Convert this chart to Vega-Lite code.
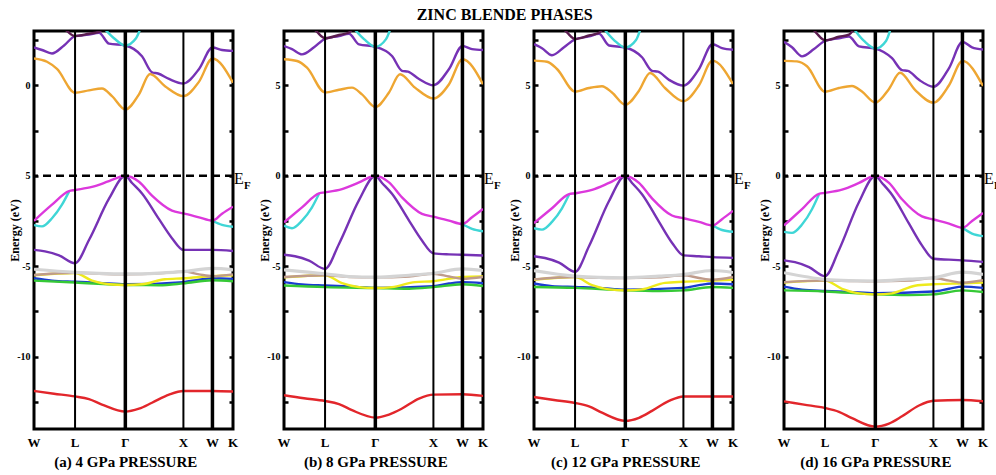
{
  "$schema": "https://vega.github.io/schema/vega-lite/v6.json",
  "background": "white",
  "padding": {"left": 7, "top": 6, "right": 0, "bottom": 0},
  "title": {"text": "ZINC BLENDE PHASES", "font": "Liberation Serif, Times New Roman, DejaVu Serif, serif", "fontSize": 16, "fontWeight": "bold", "color": "black", "anchor": "middle", "offset": 5},
  "config": {
    "view": {"stroke": "black", "strokeWidth": 3},
    "font": "Liberation Serif, Times New Roman, DejaVu Serif, serif",
    "axis": {"grid": false, "domain": false, "labelColor": "black", "titleColor": "black", "labelFont": "Liberation Serif, Times New Roman, DejaVu Serif, serif", "titleFont": "Liberation Serif, Times New Roman, DejaVu Serif, serif", "labelFontWeight": "bold", "titleFontWeight": "bold"},
    "axisLeft": {"tickSize": -4, "tickWidth": 2.5, "tickColor": "black", "labelFontSize": 10, "labelPadding": 8, "titleFontSize": 12, "titlePadding": -5},
    "axisRight": {"tickSize": -4, "tickWidth": 2.5, "tickColor": "black", "labels": false, "title": null},
    "axisBottom": {"ticks": false, "labels": false, "titleFontSize": 15, "titlePadding": 25},
    "text": {"font": "Liberation Serif, Times New Roman, DejaVu Serif, serif", "color": "black"}
  },
  "datasets": {
    "kpath": [
      {"point": "W", "k": 0},
      {"point": "L", "k": 0.707},
      {"point": "Γ", "k": 1.573},
      {"point": "X", "k": 2.573},
      {"point": "W", "k": 3.073},
      {"point": "K", "k": 3.427}
    ],
    "bands_4GPa": [
      {"band": "red", "k": 0, "E": -11.9}, {"band": "red", "k": 0.344, "E": -12.05}, {"band": "red", "k": 0.707, "E": -12.2}, {"band": "red", "k": 0.947, "E": -12.35}, {"band": "red", "k": 1.171, "E": -12.65}, {"band": "red", "k": 1.573, "E": -13.04}, {"band": "red", "k": 1.808, "E": -12.88}, {"band": "red", "k": 2.032, "E": -12.55}, {"band": "red", "k": 2.325, "E": -12.1}, {"band": "red", "k": 2.573, "E": -11.9}, {"band": "red", "k": 3.073, "E": -11.9}, {"band": "red", "k": 3.427, "E": -11.93},
      {"band": "blue", "k": 0, "E": -5.67}, {"band": "blue", "k": 0.31, "E": -5.8}, {"band": "blue", "k": 0.707, "E": -5.86}, {"band": "blue", "k": 1.119, "E": -5.92}, {"band": "blue", "k": 1.573, "E": -6.0}, {"band": "blue", "k": 2.573, "E": -5.88}, {"band": "blue", "k": 2.842, "E": -5.75}, {"band": "blue", "k": 3.073, "E": -5.67}, {"band": "blue", "k": 3.427, "E": -5.7},
      {"band": "green", "k": 0, "E": -5.8}, {"band": "green", "k": 0.707, "E": -5.9}, {"band": "green", "k": 1.573, "E": -6.04}, {"band": "green", "k": 2.153, "E": -6.05}, {"band": "green", "k": 2.573, "E": -5.95}, {"band": "green", "k": 3.073, "E": -5.78}, {"band": "green", "k": 3.427, "E": -5.83},
      {"band": "yellow", "k": 0, "E": -5.5}, {"band": "yellow", "k": 0.707, "E": -5.38}, {"band": "yellow", "k": 0.999, "E": -5.8}, {"band": "yellow", "k": 1.292, "E": -6.0}, {"band": "yellow", "k": 1.573, "E": -6.04}, {"band": "yellow", "k": 1.86, "E": -6.0}, {"band": "yellow", "k": 2.256, "E": -5.72}, {"band": "yellow", "k": 2.573, "E": -5.67}, {"band": "yellow", "k": 3.073, "E": -5.55}, {"band": "yellow", "k": 3.427, "E": -5.5},
      {"band": "brown", "k": 0, "E": -5.49}, {"band": "brown", "k": 0.707, "E": -5.36}, {"band": "brown", "k": 1.119, "E": -5.42}, {"band": "brown", "k": 1.573, "E": -5.45}, {"band": "brown", "k": 2.153, "E": -5.4}, {"band": "brown", "k": 2.573, "E": -5.3}, {"band": "brown", "k": 2.842, "E": -5.45}, {"band": "brown", "k": 3.073, "E": -5.55}, {"band": "brown", "k": 3.427, "E": -5.45},
      {"band": "gray", "k": 0, "E": -5.17}, {"band": "gray", "k": 0.707, "E": -5.34}, {"band": "gray", "k": 1.119, "E": -5.4}, {"band": "gray", "k": 1.573, "E": -5.43}, {"band": "gray", "k": 2.153, "E": -5.38}, {"band": "gray", "k": 2.573, "E": -5.3}, {"band": "gray", "k": 3.073, "E": -5.12}, {"band": "gray", "k": 3.427, "E": -5.2},
      {"band": "violet_v", "k": 0, "E": -4.1}, {"band": "violet_v", "k": 0.189, "E": -4.18}, {"band": "violet_v", "k": 0.431, "E": -4.4}, {"band": "violet_v", "k": 0.707, "E": -4.84}, {"band": "violet_v", "k": 0.947, "E": -3.55}, {"band": "violet_v", "k": 1.292, "E": -1.27}, {"band": "violet_v", "k": 1.573, "E": 0}, {"band": "violet_v", "k": 1.688, "E": -0.4}, {"band": "violet_v", "k": 1.86, "E": -0.98}, {"band": "violet_v", "k": 2.153, "E": -2.4}, {"band": "violet_v", "k": 2.376, "E": -3.45}, {"band": "violet_v", "k": 2.573, "E": -4.1}, {"band": "violet_v", "k": 2.842, "E": -4.1}, {"band": "violet_v", "k": 3.073, "E": -4.1}, {"band": "violet_v", "k": 3.427, "E": -4.16},
      {"band": "cyan_v1", "k": 0, "E": -2.73}, {"band": "cyan_v1", "k": 0.138, "E": -2.8}, {"band": "cyan_v1", "k": 0.31, "E": -2.35}, {"band": "cyan_v1", "k": 0.482, "E": -1.6}, {"band": "cyan_v1", "k": 0.603, "E": -0.88},
      {"band": "cyan_v2", "k": 3.073, "E": -2.49}, {"band": "cyan_v2", "k": 3.238, "E": -2.72}, {"band": "cyan_v2", "k": 3.427, "E": -2.82},
      {"band": "magenta", "k": 0, "E": -2.49}, {"band": "magenta", "k": 0.31, "E": -1.6}, {"band": "magenta", "k": 0.603, "E": -0.85}, {"band": "magenta", "k": 0.707, "E": -0.79}, {"band": "magenta", "k": 0.999, "E": -0.62}, {"band": "magenta", "k": 1.292, "E": -0.3}, {"band": "magenta", "k": 1.573, "E": 0}, {"band": "magenta", "k": 1.808, "E": -0.33}, {"band": "magenta", "k": 2.032, "E": -1.1}, {"band": "magenta", "k": 2.376, "E": -1.93}, {"band": "magenta", "k": 2.573, "E": -2.08}, {"band": "magenta", "k": 2.842, "E": -2.3}, {"band": "magenta", "k": 3.073, "E": -2.49}, {"band": "magenta", "k": 3.238, "E": -2.1}, {"band": "magenta", "k": 3.427, "E": -1.71},
      {"band": "orange", "k": 0, "E": 6.48}, {"band": "orange", "k": 0.224, "E": 6.3}, {"band": "orange", "k": 0.396, "E": 5.9}, {"band": "orange", "k": 0.707, "E": 4.59}, {"band": "orange", "k": 0.947, "E": 4.72}, {"band": "orange", "k": 1.171, "E": 4.82}, {"band": "orange", "k": 1.343, "E": 4.4}, {"band": "orange", "k": 1.573, "E": 3.66}, {"band": "orange", "k": 1.808, "E": 4.5}, {"band": "orange", "k": 1.998, "E": 5.62}, {"band": "orange", "k": 2.256, "E": 4.95}, {"band": "orange", "k": 2.573, "E": 4.4}, {"band": "orange", "k": 2.842, "E": 5.2}, {"band": "orange", "k": 3.073, "E": 6.48}, {"band": "orange", "k": 3.427, "E": 5.14},
      {"band": "violet_c", "k": 0, "E": 7.09}, {"band": "violet_c", "k": 0.138, "E": 6.95}, {"band": "violet_c", "k": 0.31, "E": 6.76}, {"band": "violet_c", "k": 0.517, "E": 7.2}, {"band": "violet_c", "k": 0.707, "E": 7.72}, {"band": "violet_c", "k": 0.947, "E": 7.8}, {"band": "violet_c", "k": 1.119, "E": 7.9}, {"band": "violet_c", "k": 1.292, "E": 7.3}, {"band": "violet_c", "k": 1.573, "E": 7.2}, {"band": "violet_c", "k": 1.86, "E": 6.6}, {"band": "violet_c", "k": 2.032, "E": 5.72}, {"band": "violet_c", "k": 2.135, "E": 5.65}, {"band": "violet_c", "k": 2.325, "E": 5.35}, {"band": "violet_c", "k": 2.573, "E": 5.1}, {"band": "violet_c", "k": 2.842, "E": 5.9}, {"band": "violet_c", "k": 3.073, "E": 7.09}, {"band": "violet_c", "k": 3.238, "E": 6.95}, {"band": "violet_c", "k": 3.427, "E": 6.9},
      {"band": "plum", "k": 0.431, "E": 8.4}, {"band": "plum", "k": 0.568, "E": 8.0}, {"band": "plum", "k": 0.707, "E": 7.72}, {"band": "plum", "k": 0.947, "E": 7.85}, {"band": "plum", "k": 1.119, "E": 7.95}, {"band": "plum", "k": 1.24, "E": 8.4},
      {"band": "cyan_c", "k": 1.137, "E": 8.4}, {"band": "cyan_c", "k": 1.378, "E": 7.6}, {"band": "cyan_c", "k": 1.573, "E": 7.2}, {"band": "cyan_c", "k": 1.757, "E": 7.6}, {"band": "cyan_c", "k": 1.86, "E": 8.4}
    ],
    "bands_8GPa": [
      {"band": "red", "k": 0, "E": -12.13}, {"band": "red", "k": 0.344, "E": -12.3}, {"band": "red", "k": 0.707, "E": -12.45}, {"band": "red", "k": 0.947, "E": -12.62}, {"band": "red", "k": 1.171, "E": -12.96}, {"band": "red", "k": 1.573, "E": -13.37}, {"band": "red", "k": 1.808, "E": -13.2}, {"band": "red", "k": 2.032, "E": -12.87}, {"band": "red", "k": 2.325, "E": -12.32}, {"band": "red", "k": 2.573, "E": -12.1}, {"band": "red", "k": 3.073, "E": -12.08}, {"band": "red", "k": 3.427, "E": -12.17},
      {"band": "blue", "k": 0, "E": -5.88}, {"band": "blue", "k": 0.31, "E": -6.01}, {"band": "blue", "k": 0.707, "E": -6.07}, {"band": "blue", "k": 1.119, "E": -6.12}, {"band": "blue", "k": 1.573, "E": -6.2}, {"band": "blue", "k": 2.573, "E": -6.1}, {"band": "blue", "k": 2.842, "E": -5.96}, {"band": "blue", "k": 3.073, "E": -5.88}, {"band": "blue", "k": 3.427, "E": -5.94},
      {"band": "green", "k": 0, "E": -6.07}, {"band": "green", "k": 0.707, "E": -6.16}, {"band": "green", "k": 1.573, "E": -6.21}, {"band": "green", "k": 2.153, "E": -6.25}, {"band": "green", "k": 2.573, "E": -6.16}, {"band": "green", "k": 3.073, "E": -6.0}, {"band": "green", "k": 3.427, "E": -6.1},
      {"band": "yellow", "k": 0, "E": -5.62}, {"band": "yellow", "k": 0.707, "E": -5.5}, {"band": "yellow", "k": 0.999, "E": -5.94}, {"band": "yellow", "k": 1.292, "E": -6.16}, {"band": "yellow", "k": 1.573, "E": -6.21}, {"band": "yellow", "k": 1.86, "E": -6.16}, {"band": "yellow", "k": 2.256, "E": -5.88}, {"band": "yellow", "k": 2.573, "E": -5.83}, {"band": "yellow", "k": 3.073, "E": -5.6}, {"band": "yellow", "k": 3.427, "E": -5.57},
      {"band": "brown", "k": 0, "E": -5.6}, {"band": "brown", "k": 0.707, "E": -5.5}, {"band": "brown", "k": 1.119, "E": -5.6}, {"band": "brown", "k": 1.573, "E": -5.62}, {"band": "brown", "k": 2.153, "E": -5.57}, {"band": "brown", "k": 2.573, "E": -5.42}, {"band": "brown", "k": 2.842, "E": -5.57}, {"band": "brown", "k": 3.073, "E": -5.7}, {"band": "brown", "k": 3.427, "E": -5.6},
      {"band": "gray", "k": 0, "E": -5.2}, {"band": "gray", "k": 0.707, "E": -5.42}, {"band": "gray", "k": 1.119, "E": -5.57}, {"band": "gray", "k": 1.573, "E": -5.61}, {"band": "gray", "k": 2.153, "E": -5.5}, {"band": "gray", "k": 2.573, "E": -5.39}, {"band": "gray", "k": 3.073, "E": -5.15}, {"band": "gray", "k": 3.427, "E": -5.24},
      {"band": "violet_v", "k": 0, "E": -4.37}, {"band": "violet_v", "k": 0.189, "E": -4.45}, {"band": "violet_v", "k": 0.431, "E": -4.69}, {"band": "violet_v", "k": 0.707, "E": -5.15}, {"band": "violet_v", "k": 0.947, "E": -3.77}, {"band": "violet_v", "k": 1.292, "E": -1.35}, {"band": "violet_v", "k": 1.573, "E": 0}, {"band": "violet_v", "k": 1.688, "E": -0.4}, {"band": "violet_v", "k": 1.86, "E": -1.0}, {"band": "violet_v", "k": 2.153, "E": -2.48}, {"band": "violet_v", "k": 2.376, "E": -3.58}, {"band": "violet_v", "k": 2.573, "E": -4.29}, {"band": "violet_v", "k": 2.842, "E": -4.35}, {"band": "violet_v", "k": 3.073, "E": -4.37}, {"band": "violet_v", "k": 3.427, "E": -4.41},
      {"band": "cyan_v1", "k": 0, "E": -2.76}, {"band": "cyan_v1", "k": 0.138, "E": -2.9}, {"band": "cyan_v1", "k": 0.31, "E": -2.48}, {"band": "cyan_v1", "k": 0.482, "E": -1.75}, {"band": "cyan_v1", "k": 0.603, "E": -1.0},
      {"band": "cyan_v2", "k": 3.073, "E": -2.67}, {"band": "cyan_v2", "k": 3.238, "E": -2.94}, {"band": "cyan_v2", "k": 3.427, "E": -3.07},
      {"band": "magenta", "k": 0, "E": -2.58}, {"band": "magenta", "k": 0.31, "E": -1.75}, {"band": "magenta", "k": 0.603, "E": -0.97}, {"band": "magenta", "k": 0.707, "E": -0.92}, {"band": "magenta", "k": 0.999, "E": -0.74}, {"band": "magenta", "k": 1.292, "E": -0.37}, {"band": "magenta", "k": 1.573, "E": 0}, {"band": "magenta", "k": 1.808, "E": -0.37}, {"band": "magenta", "k": 2.032, "E": -1.2}, {"band": "magenta", "k": 2.376, "E": -2.11}, {"band": "magenta", "k": 2.573, "E": -2.26}, {"band": "magenta", "k": 2.842, "E": -2.48}, {"band": "magenta", "k": 3.073, "E": -2.67}, {"band": "magenta", "k": 3.238, "E": -2.3}, {"band": "magenta", "k": 3.427, "E": -1.84},
      {"band": "orange", "k": 0, "E": 6.44}, {"band": "orange", "k": 0.224, "E": 6.34}, {"band": "orange", "k": 0.396, "E": 5.97}, {"band": "orange", "k": 0.707, "E": 4.6}, {"band": "orange", "k": 0.947, "E": 4.75}, {"band": "orange", "k": 1.171, "E": 4.87}, {"band": "orange", "k": 1.343, "E": 4.5}, {"band": "orange", "k": 1.573, "E": 3.8}, {"band": "orange", "k": 1.808, "E": 4.6}, {"band": "orange", "k": 1.998, "E": 5.61}, {"band": "orange", "k": 2.256, "E": 4.87}, {"band": "orange", "k": 2.573, "E": 4.27}, {"band": "orange", "k": 2.842, "E": 5.06}, {"band": "orange", "k": 3.073, "E": 6.44}, {"band": "orange", "k": 3.427, "E": 5.06},
      {"band": "violet_c", "k": 0, "E": 7.17}, {"band": "violet_c", "k": 0.138, "E": 7.0}, {"band": "violet_c", "k": 0.31, "E": 6.71}, {"band": "violet_c", "k": 0.517, "E": 7.1}, {"band": "violet_c", "k": 0.707, "E": 7.57}, {"band": "violet_c", "k": 0.947, "E": 7.72}, {"band": "violet_c", "k": 1.119, "E": 7.85}, {"band": "violet_c", "k": 1.292, "E": 7.26}, {"band": "violet_c", "k": 1.573, "E": 7.13}, {"band": "violet_c", "k": 1.86, "E": 6.62}, {"band": "violet_c", "k": 2.032, "E": 5.8}, {"band": "violet_c", "k": 2.135, "E": 5.75}, {"band": "violet_c", "k": 2.325, "E": 5.35}, {"band": "violet_c", "k": 2.573, "E": 5.0}, {"band": "violet_c", "k": 2.842, "E": 5.9}, {"band": "violet_c", "k": 3.073, "E": 7.17}, {"band": "violet_c", "k": 3.238, "E": 7.0}, {"band": "violet_c", "k": 3.427, "E": 6.95},
      {"band": "plum", "k": 0.431, "E": 8.4}, {"band": "plum", "k": 0.568, "E": 7.95}, {"band": "plum", "k": 0.707, "E": 7.6}, {"band": "plum", "k": 0.947, "E": 7.78}, {"band": "plum", "k": 1.119, "E": 7.92}, {"band": "plum", "k": 1.24, "E": 8.4},
      {"band": "cyan_c", "k": 1.137, "E": 8.4}, {"band": "cyan_c", "k": 1.378, "E": 7.55}, {"band": "cyan_c", "k": 1.573, "E": 7.13}, {"band": "cyan_c", "k": 1.757, "E": 7.55}, {"band": "cyan_c", "k": 1.86, "E": 8.4}
    ],
    "bands_12GPa": [
      {"band": "red", "k": 0, "E": -12.23}, {"band": "red", "k": 0.344, "E": -12.4}, {"band": "red", "k": 0.707, "E": -12.56}, {"band": "red", "k": 0.947, "E": -12.75}, {"band": "red", "k": 1.171, "E": -13.1}, {"band": "red", "k": 1.573, "E": -13.55}, {"band": "red", "k": 1.808, "E": -13.38}, {"band": "red", "k": 2.032, "E": -13.0}, {"band": "red", "k": 2.325, "E": -12.45}, {"band": "red", "k": 2.573, "E": -12.2}, {"band": "red", "k": 3.073, "E": -12.2}, {"band": "red", "k": 3.427, "E": -12.2},
      {"band": "blue", "k": 0, "E": -5.96}, {"band": "blue", "k": 0.31, "E": -6.1}, {"band": "blue", "k": 0.707, "E": -6.15}, {"band": "blue", "k": 1.119, "E": -6.2}, {"band": "blue", "k": 1.573, "E": -6.3}, {"band": "blue", "k": 2.573, "E": -6.2}, {"band": "blue", "k": 2.842, "E": -6.05}, {"band": "blue", "k": 3.073, "E": -5.96}, {"band": "blue", "k": 3.427, "E": -6.0},
      {"band": "green", "k": 0, "E": -6.15}, {"band": "green", "k": 0.707, "E": -6.2}, {"band": "green", "k": 1.573, "E": -6.34}, {"band": "green", "k": 2.153, "E": -6.38}, {"band": "green", "k": 2.573, "E": -6.34}, {"band": "green", "k": 3.073, "E": -6.15}, {"band": "green", "k": 3.427, "E": -6.2},
      {"band": "yellow", "k": 0, "E": -5.75}, {"band": "yellow", "k": 0.707, "E": -5.6}, {"band": "yellow", "k": 0.999, "E": -6.05}, {"band": "yellow", "k": 1.292, "E": -6.28}, {"band": "yellow", "k": 1.573, "E": -6.34}, {"band": "yellow", "k": 1.86, "E": -6.28}, {"band": "yellow", "k": 2.256, "E": -5.92}, {"band": "yellow", "k": 2.573, "E": -5.86}, {"band": "yellow", "k": 3.073, "E": -5.8}, {"band": "yellow", "k": 3.427, "E": -5.75},
      {"band": "brown", "k": 0, "E": -5.73}, {"band": "brown", "k": 0.707, "E": -5.6}, {"band": "brown", "k": 1.119, "E": -5.64}, {"band": "brown", "k": 1.573, "E": -5.66}, {"band": "brown", "k": 2.153, "E": -5.62}, {"band": "brown", "k": 2.573, "E": -5.5}, {"band": "brown", "k": 2.842, "E": -5.65}, {"band": "brown", "k": 3.073, "E": -5.75}, {"band": "brown", "k": 3.427, "E": -5.6},
      {"band": "gray", "k": 0, "E": -5.24}, {"band": "gray", "k": 0.707, "E": -5.55}, {"band": "gray", "k": 1.119, "E": -5.62}, {"band": "gray", "k": 1.573, "E": -5.64}, {"band": "gray", "k": 2.153, "E": -5.55}, {"band": "gray", "k": 2.573, "E": -5.46}, {"band": "gray", "k": 3.073, "E": -5.24}, {"band": "gray", "k": 3.427, "E": -5.35},
      {"band": "violet_v", "k": 0, "E": -4.45}, {"band": "violet_v", "k": 0.189, "E": -4.55}, {"band": "violet_v", "k": 0.431, "E": -4.8}, {"band": "violet_v", "k": 0.707, "E": -5.31}, {"band": "violet_v", "k": 0.947, "E": -3.9}, {"band": "violet_v", "k": 1.292, "E": -1.4}, {"band": "violet_v", "k": 1.573, "E": 0}, {"band": "violet_v", "k": 1.688, "E": -0.4}, {"band": "violet_v", "k": 1.86, "E": -1.02}, {"band": "violet_v", "k": 2.153, "E": -2.55}, {"band": "violet_v", "k": 2.376, "E": -3.7}, {"band": "violet_v", "k": 2.573, "E": -4.4}, {"band": "violet_v", "k": 2.842, "E": -4.45}, {"band": "violet_v", "k": 3.073, "E": -4.5}, {"band": "violet_v", "k": 3.427, "E": -4.54},
      {"band": "cyan_v1", "k": 0, "E": -2.9}, {"band": "cyan_v1", "k": 0.138, "E": -2.98}, {"band": "cyan_v1", "k": 0.31, "E": -2.55}, {"band": "cyan_v1", "k": 0.482, "E": -1.8}, {"band": "cyan_v1", "k": 0.603, "E": -1.05},
      {"band": "cyan_v2", "k": 3.073, "E": -2.75}, {"band": "cyan_v2", "k": 3.238, "E": -3.0}, {"band": "cyan_v2", "k": 3.427, "E": -3.1},
      {"band": "magenta", "k": 0, "E": -2.62}, {"band": "magenta", "k": 0.31, "E": -1.8}, {"band": "magenta", "k": 0.603, "E": -1.02}, {"band": "magenta", "k": 0.707, "E": -0.97}, {"band": "magenta", "k": 0.999, "E": -0.78}, {"band": "magenta", "k": 1.292, "E": -0.4}, {"band": "magenta", "k": 1.573, "E": 0}, {"band": "magenta", "k": 1.808, "E": -0.4}, {"band": "magenta", "k": 2.032, "E": -1.25}, {"band": "magenta", "k": 2.376, "E": -2.2}, {"band": "magenta", "k": 2.573, "E": -2.35}, {"band": "magenta", "k": 2.842, "E": -2.55}, {"band": "magenta", "k": 3.073, "E": -2.75}, {"band": "magenta", "k": 3.238, "E": -2.4}, {"band": "magenta", "k": 3.427, "E": -1.94},
      {"band": "orange", "k": 0, "E": 6.36}, {"band": "orange", "k": 0.224, "E": 6.3}, {"band": "orange", "k": 0.396, "E": 5.9}, {"band": "orange", "k": 0.707, "E": 4.65}, {"band": "orange", "k": 0.947, "E": 4.85}, {"band": "orange", "k": 1.171, "E": 4.95}, {"band": "orange", "k": 1.343, "E": 4.6}, {"band": "orange", "k": 1.573, "E": 3.92}, {"band": "orange", "k": 1.808, "E": 4.7}, {"band": "orange", "k": 1.998, "E": 5.68}, {"band": "orange", "k": 2.256, "E": 4.85}, {"band": "orange", "k": 2.573, "E": 4.12}, {"band": "orange", "k": 2.842, "E": 5.0}, {"band": "orange", "k": 3.073, "E": 6.36}, {"band": "orange", "k": 3.427, "E": 5.07},
      {"band": "violet_c", "k": 0, "E": 7.27}, {"band": "violet_c", "k": 0.138, "E": 7.05}, {"band": "violet_c", "k": 0.31, "E": 6.66}, {"band": "violet_c", "k": 0.517, "E": 7.1}, {"band": "violet_c", "k": 0.707, "E": 7.54}, {"band": "violet_c", "k": 0.947, "E": 7.7}, {"band": "violet_c", "k": 1.119, "E": 7.85}, {"band": "violet_c", "k": 1.292, "E": 7.2}, {"band": "violet_c", "k": 1.573, "E": 7.09}, {"band": "violet_c", "k": 1.86, "E": 6.55}, {"band": "violet_c", "k": 2.032, "E": 5.8}, {"band": "violet_c", "k": 2.135, "E": 5.75}, {"band": "violet_c", "k": 2.325, "E": 5.3}, {"band": "violet_c", "k": 2.573, "E": 4.98}, {"band": "violet_c", "k": 2.842, "E": 5.9}, {"band": "violet_c", "k": 3.073, "E": 7.27}, {"band": "violet_c", "k": 3.238, "E": 7.05}, {"band": "violet_c", "k": 3.427, "E": 6.96},
      {"band": "plum", "k": 0.431, "E": 8.4}, {"band": "plum", "k": 0.568, "E": 7.92}, {"band": "plum", "k": 0.707, "E": 7.56}, {"band": "plum", "k": 0.947, "E": 7.75}, {"band": "plum", "k": 1.119, "E": 7.9}, {"band": "plum", "k": 1.24, "E": 8.4},
      {"band": "cyan_c", "k": 1.137, "E": 8.4}, {"band": "cyan_c", "k": 1.378, "E": 7.5}, {"band": "cyan_c", "k": 1.573, "E": 7.09}, {"band": "cyan_c", "k": 1.757, "E": 7.5}, {"band": "cyan_c", "k": 1.86, "E": 8.4}
    ],
    "bands_16GPa": [
      {"band": "red", "k": 0, "E": -12.47}, {"band": "red", "k": 0.344, "E": -12.65}, {"band": "red", "k": 0.707, "E": -12.84}, {"band": "red", "k": 0.947, "E": -13.05}, {"band": "red", "k": 1.171, "E": -13.4}, {"band": "red", "k": 1.573, "E": -13.87}, {"band": "red", "k": 1.808, "E": -13.7}, {"band": "red", "k": 2.032, "E": -13.3}, {"band": "red", "k": 2.325, "E": -12.7}, {"band": "red", "k": 2.573, "E": -12.44}, {"band": "red", "k": 3.073, "E": -12.4}, {"band": "red", "k": 3.427, "E": -12.47},
      {"band": "blue", "k": 0, "E": -6.13}, {"band": "blue", "k": 0.31, "E": -6.3}, {"band": "blue", "k": 0.707, "E": -6.37}, {"band": "blue", "k": 1.119, "E": -6.42}, {"band": "blue", "k": 1.573, "E": -6.5}, {"band": "blue", "k": 2.573, "E": -6.4}, {"band": "blue", "k": 2.842, "E": -6.25}, {"band": "blue", "k": 3.073, "E": -6.13}, {"band": "blue", "k": 3.427, "E": -6.2},
      {"band": "green", "k": 0, "E": -6.34}, {"band": "green", "k": 0.707, "E": -6.4}, {"band": "green", "k": 1.573, "E": -6.56}, {"band": "green", "k": 2.153, "E": -6.6}, {"band": "green", "k": 2.573, "E": -6.56}, {"band": "green", "k": 3.073, "E": -6.34}, {"band": "green", "k": 3.427, "E": -6.43},
      {"band": "yellow", "k": 0, "E": -5.9}, {"band": "yellow", "k": 0.707, "E": -5.8}, {"band": "yellow", "k": 0.999, "E": -6.25}, {"band": "yellow", "k": 1.292, "E": -6.5}, {"band": "yellow", "k": 1.573, "E": -6.56}, {"band": "yellow", "k": 1.86, "E": -6.5}, {"band": "yellow", "k": 2.256, "E": -6.08}, {"band": "yellow", "k": 2.573, "E": -6.0}, {"band": "yellow", "k": 3.073, "E": -5.95}, {"band": "yellow", "k": 3.427, "E": -5.91},
      {"band": "brown", "k": 0, "E": -5.88}, {"band": "brown", "k": 0.707, "E": -5.8}, {"band": "brown", "k": 1.119, "E": -5.82}, {"band": "brown", "k": 1.573, "E": -5.84}, {"band": "brown", "k": 2.153, "E": -5.8}, {"band": "brown", "k": 2.573, "E": -5.65}, {"band": "brown", "k": 2.842, "E": -5.8}, {"band": "brown", "k": 3.073, "E": -5.91}, {"band": "brown", "k": 3.427, "E": -5.78},
      {"band": "gray", "k": 0, "E": -5.36}, {"band": "gray", "k": 0.707, "E": -5.73}, {"band": "gray", "k": 1.119, "E": -5.8}, {"band": "gray", "k": 1.573, "E": -5.82}, {"band": "gray", "k": 2.153, "E": -5.72}, {"band": "gray", "k": 2.573, "E": -5.64}, {"band": "gray", "k": 3.073, "E": -5.33}, {"band": "gray", "k": 3.427, "E": -5.45},
      {"band": "violet_v", "k": 0, "E": -4.68}, {"band": "violet_v", "k": 0.189, "E": -4.78}, {"band": "violet_v", "k": 0.431, "E": -5.05}, {"band": "violet_v", "k": 0.707, "E": -5.55}, {"band": "violet_v", "k": 0.947, "E": -4.1}, {"band": "violet_v", "k": 1.292, "E": -1.45}, {"band": "violet_v", "k": 1.573, "E": 0}, {"band": "violet_v", "k": 1.688, "E": -0.4}, {"band": "violet_v", "k": 1.86, "E": -1.05}, {"band": "violet_v", "k": 2.153, "E": -2.65}, {"band": "violet_v", "k": 2.376, "E": -3.85}, {"band": "violet_v", "k": 2.573, "E": -4.59}, {"band": "violet_v", "k": 2.842, "E": -4.64}, {"band": "violet_v", "k": 3.073, "E": -4.68}, {"band": "violet_v", "k": 3.427, "E": -4.76},
      {"band": "cyan_v1", "k": 0, "E": -3.1}, {"band": "cyan_v1", "k": 0.138, "E": -3.16}, {"band": "cyan_v1", "k": 0.31, "E": -2.7}, {"band": "cyan_v1", "k": 0.482, "E": -1.85}, {"band": "cyan_v1", "k": 0.603, "E": -1.02},
      {"band": "cyan_v2", "k": 3.073, "E": -2.88}, {"band": "cyan_v2", "k": 3.238, "E": -3.2}, {"band": "cyan_v2", "k": 3.427, "E": -3.34},
      {"band": "magenta", "k": 0, "E": -2.75}, {"band": "magenta", "k": 0.31, "E": -1.85}, {"band": "magenta", "k": 0.603, "E": -1.0}, {"band": "magenta", "k": 0.707, "E": -0.95}, {"band": "magenta", "k": 0.999, "E": -0.77}, {"band": "magenta", "k": 1.292, "E": -0.4}, {"band": "magenta", "k": 1.573, "E": 0}, {"band": "magenta", "k": 1.808, "E": -0.4}, {"band": "magenta", "k": 2.032, "E": -1.3}, {"band": "magenta", "k": 2.376, "E": -2.25}, {"band": "magenta", "k": 2.573, "E": -2.42}, {"band": "magenta", "k": 2.842, "E": -2.65}, {"band": "magenta", "k": 3.073, "E": -2.88}, {"band": "magenta", "k": 3.238, "E": -2.5}, {"band": "magenta", "k": 3.427, "E": -2.06},
      {"band": "orange", "k": 0, "E": 6.35}, {"band": "orange", "k": 0.224, "E": 6.32}, {"band": "orange", "k": 0.396, "E": 6.05}, {"band": "orange", "k": 0.707, "E": 4.64}, {"band": "orange", "k": 0.947, "E": 4.85}, {"band": "orange", "k": 1.171, "E": 4.96}, {"band": "orange", "k": 1.343, "E": 4.65}, {"band": "orange", "k": 1.573, "E": 4.04}, {"band": "orange", "k": 1.808, "E": 4.8}, {"band": "orange", "k": 1.998, "E": 5.69}, {"band": "orange", "k": 2.256, "E": 4.75}, {"band": "orange", "k": 2.573, "E": 4.04}, {"band": "orange", "k": 2.842, "E": 5.0}, {"band": "orange", "k": 3.073, "E": 6.35}, {"band": "orange", "k": 3.427, "E": 4.96},
      {"band": "violet_c", "k": 0, "E": 7.4}, {"band": "violet_c", "k": 0.138, "E": 7.1}, {"band": "violet_c", "k": 0.31, "E": 6.6}, {"band": "violet_c", "k": 0.517, "E": 7.0}, {"band": "violet_c", "k": 0.707, "E": 7.45}, {"band": "violet_c", "k": 0.947, "E": 7.6}, {"band": "violet_c", "k": 1.119, "E": 7.7}, {"band": "violet_c", "k": 1.292, "E": 7.15}, {"band": "violet_c", "k": 1.573, "E": 7.03}, {"band": "violet_c", "k": 1.86, "E": 6.5}, {"band": "violet_c", "k": 2.032, "E": 5.84}, {"band": "violet_c", "k": 2.135, "E": 5.8}, {"band": "violet_c", "k": 2.325, "E": 5.3}, {"band": "violet_c", "k": 2.573, "E": 4.92}, {"band": "violet_c", "k": 2.842, "E": 5.95}, {"band": "violet_c", "k": 3.073, "E": 7.4}, {"band": "violet_c", "k": 3.238, "E": 7.1}, {"band": "violet_c", "k": 3.427, "E": 6.98},
      {"band": "plum", "k": 0.431, "E": 8.4}, {"band": "plum", "k": 0.568, "E": 7.85}, {"band": "plum", "k": 0.707, "E": 7.48}, {"band": "plum", "k": 0.947, "E": 7.68}, {"band": "plum", "k": 1.119, "E": 7.8}, {"band": "plum", "k": 1.24, "E": 8.3},
      {"band": "cyan_c", "k": 1.137, "E": 8.4}, {"band": "cyan_c", "k": 1.378, "E": 7.45}, {"band": "cyan_c", "k": 1.573, "E": 7.03}, {"band": "cyan_c", "k": 1.757, "E": 7.45}, {"band": "cyan_c", "k": 1.86, "E": 8.4}
    ]
  },
  "bounds": "flush",
  "spacing": 51,
  "hconcat": [
    {
      "width": 199, "height": 398,
      "resolve": {"axis": {"y": "independent"}},
      "layer": [
        {
          "data": {"name": "bands_4GPa"},
          "mark": {"type": "line", "interpolate": "monotone", "clip": true},
          "encoding": {
            "x": {"field": "k", "type": "quantitative", "scale": {"domain": [0, 3.427], "nice": false, "zero": false},
                  "axis": {"title": "(a) 4 GPa PRESSURE", "titleX": 91.3}},
            "y": {"field": "E", "type": "quantitative", "scale": {"domain": [-14, 8], "nice": false, "zero": false},
                  "axis": {"values": [-12.5, -10, -7.5, -5, -2.5, 0, 2.5, 5, 7.5], "labelExpr": "datum.value % 5 !== 0 ? '' : datum.value === 5 ? '0' : datum.value === 0 ? '5' : datum.value < 0 ? '-' + abs(datum.value) : '' + datum.value", "title": "Energy (eV)"}},
            "color": {"field": "band", "type": "nominal", "legend": null,
                      "scale": {"domain": ["red", "blue", "green", "yellow", "brown", "gray", "violet_v", "cyan_v1", "cyan_v2", "magenta", "orange", "violet_c", "plum", "cyan_c"],
                                "range": ["#e2262b", "#1a3bd1", "#36c936", "#eeea1c", "#bf9b8b", "#d4d4d4", "#7632b5", "#3fd6d6", "#3fd6d6", "#dc38dc", "#eea632", "#7632b5", "#5b1d4f", "#3fd6d6"]}},
            "strokeWidth": {"condition": {"test": "datum.band === 'gray'", "value": 3.2}, "value": 2.4}
          }
        },
        {
          "data": {"name": "kpath"},
          "transform": [{"filter": "datum.point === 'L' || datum.point === 'X'"}],
          "mark": {"type": "rule", "color": "black", "strokeWidth": 2},
          "encoding": {"x": {"field": "k", "type": "quantitative"}}
        },
        {
          "data": {"name": "kpath"},
          "transform": [{"filter": "datum.point === 'Γ' || (datum.point === 'W' && datum.k > 0)"}],
          "mark": {"type": "rule", "color": "black", "strokeWidth": 3.5},
          "encoding": {"x": {"field": "k", "type": "quantitative"}}
        },
        {
          "data": {"name": "kpath"},
          "mark": {"type": "text", "baseline": "top", "align": "center", "dy": 8, "fontSize": 13, "fontWeight": "bold"},
          "encoding": {"x": {"field": "k", "type": "quantitative"}, "y": {"datum": -14, "type": "quantitative", "axis": null}, "text": {"field": "point"}}
        },
        {
          "data": {"values": [{"level": "Fermi"}]},
          "mark": {"type": "rule", "color": "black", "strokeWidth": 2.5, "strokeDash": [8, 5]},
          "encoding": {"y": {"datum": 0, "type": "quantitative", "scale": {"domain": [-14, 8], "nice": false},
                             "axis": {"orient": "right", "values": [-12.5, -10, -7.5, -5, -2.5, 0, 2.5, 5, 7.5], "labels": false, "title": null}}}
        },
        {
          "data": {"values": [{"level": "Fermi"}]},
          "mark": {"type": "text", "text": "E", "align": "left", "baseline": "middle", "dx": 1, "dy": 3, "fontSize": 16},
          "encoding": {"x": {"datum": 3.427, "type": "quantitative"}, "y": {"datum": 0, "type": "quantitative", "axis": null}}
        },
        {
          "data": {"values": [{"level": "Fermi"}]},
          "mark": {"type": "text", "text": "F", "align": "left", "baseline": "middle", "dx": 11, "dy": 10, "fontSize": 11, "fontWeight": "bold"},
          "encoding": {"x": {"datum": 3.427, "type": "quantitative"}, "y": {"datum": 0, "type": "quantitative", "axis": null}}
        }
      ]
    },
    {
      "width": 199, "height": 398,
      "resolve": {"axis": {"y": "independent"}},
      "layer": [
        {
          "data": {"name": "bands_8GPa"},
          "mark": {"type": "line", "interpolate": "monotone", "clip": true},
          "encoding": {
            "x": {"field": "k", "type": "quantitative", "scale": {"domain": [0, 3.427], "nice": false, "zero": false},
                  "axis": {"title": "(b) 8 GPa PRESSURE", "titleX": 91.3}},
            "y": {"field": "E", "type": "quantitative", "scale": {"domain": [-14, 8], "nice": false, "zero": false},
                  "axis": {"values": [-12.5, -10, -7.5, -5, -2.5, 0, 2.5, 5, 7.5], "labelExpr": "datum.value % 5 !== 0 ? '' : datum.value < 0 ? '-' + abs(datum.value) : '' + datum.value", "title": "Energy (eV)"}},
            "color": {"field": "band", "type": "nominal", "legend": null},
            "strokeWidth": {"condition": {"test": "datum.band === 'gray'", "value": 3.2}, "value": 2.4}
          }
        },
        {
          "data": {"name": "kpath"},
          "transform": [{"filter": "datum.point === 'L' || datum.point === 'X'"}],
          "mark": {"type": "rule", "color": "black", "strokeWidth": 2},
          "encoding": {"x": {"field": "k", "type": "quantitative"}}
        },
        {
          "data": {"name": "kpath"},
          "transform": [{"filter": "datum.point === 'Γ' || (datum.point === 'W' && datum.k > 0)"}],
          "mark": {"type": "rule", "color": "black", "strokeWidth": 3.5},
          "encoding": {"x": {"field": "k", "type": "quantitative"}}
        },
        {
          "data": {"name": "kpath"},
          "mark": {"type": "text", "baseline": "top", "align": "center", "dy": 8, "fontSize": 13, "fontWeight": "bold"},
          "encoding": {"x": {"field": "k", "type": "quantitative"}, "y": {"datum": -14, "type": "quantitative", "axis": null}, "text": {"field": "point"}}
        },
        {
          "data": {"values": [{"level": "Fermi"}]},
          "mark": {"type": "rule", "color": "black", "strokeWidth": 2.5, "strokeDash": [8, 5]},
          "encoding": {"y": {"datum": 0, "type": "quantitative", "scale": {"domain": [-14, 8], "nice": false},
                             "axis": {"orient": "right", "values": [-12.5, -10, -7.5, -5, -2.5, 0, 2.5, 5, 7.5], "labels": false, "title": null}}}
        },
        {
          "data": {"values": [{"level": "Fermi"}]},
          "mark": {"type": "text", "text": "E", "align": "left", "baseline": "middle", "dx": 1, "dy": 3, "fontSize": 16},
          "encoding": {"x": {"datum": 3.427, "type": "quantitative"}, "y": {"datum": 0, "type": "quantitative", "axis": null}}
        },
        {
          "data": {"values": [{"level": "Fermi"}]},
          "mark": {"type": "text", "text": "F", "align": "left", "baseline": "middle", "dx": 11, "dy": 10, "fontSize": 11, "fontWeight": "bold"},
          "encoding": {"x": {"datum": 3.427, "type": "quantitative"}, "y": {"datum": 0, "type": "quantitative", "axis": null}}
        }
      ]
    },
    {
      "width": 199, "height": 398,
      "resolve": {"axis": {"y": "independent"}},
      "layer": [
        {
          "data": {"name": "bands_12GPa"},
          "mark": {"type": "line", "interpolate": "monotone", "clip": true},
          "encoding": {
            "x": {"field": "k", "type": "quantitative", "scale": {"domain": [0, 3.427], "nice": false, "zero": false},
                  "axis": {"title": "(c) 12 GPa PRESSURE", "titleX": 91.3}},
            "y": {"field": "E", "type": "quantitative", "scale": {"domain": [-14, 8], "nice": false, "zero": false},
                  "axis": {"values": [-12.5, -10, -7.5, -5, -2.5, 0, 2.5, 5, 7.5], "labelExpr": "datum.value % 5 !== 0 ? '' : datum.value < 0 ? '-' + abs(datum.value) : '' + datum.value", "title": "Energy (eV)"}},
            "color": {"field": "band", "type": "nominal", "legend": null},
            "strokeWidth": {"condition": {"test": "datum.band === 'gray'", "value": 3.2}, "value": 2.4}
          }
        },
        {
          "data": {"name": "kpath"},
          "transform": [{"filter": "datum.point === 'L' || datum.point === 'X'"}],
          "mark": {"type": "rule", "color": "black", "strokeWidth": 2},
          "encoding": {"x": {"field": "k", "type": "quantitative"}}
        },
        {
          "data": {"name": "kpath"},
          "transform": [{"filter": "datum.point === 'Γ' || (datum.point === 'W' && datum.k > 0)"}],
          "mark": {"type": "rule", "color": "black", "strokeWidth": 3.5},
          "encoding": {"x": {"field": "k", "type": "quantitative"}}
        },
        {
          "data": {"name": "kpath"},
          "mark": {"type": "text", "baseline": "top", "align": "center", "dy": 8, "fontSize": 13, "fontWeight": "bold"},
          "encoding": {"x": {"field": "k", "type": "quantitative"}, "y": {"datum": -14, "type": "quantitative", "axis": null}, "text": {"field": "point"}}
        },
        {
          "data": {"values": [{"level": "Fermi"}]},
          "mark": {"type": "rule", "color": "black", "strokeWidth": 2.5, "strokeDash": [8, 5]},
          "encoding": {"y": {"datum": 0, "type": "quantitative", "scale": {"domain": [-14, 8], "nice": false},
                             "axis": {"orient": "right", "values": [-12.5, -10, -7.5, -5, -2.5, 0, 2.5, 5, 7.5], "labels": false, "title": null}}}
        },
        {
          "data": {"values": [{"level": "Fermi"}]},
          "mark": {"type": "text", "text": "E", "align": "left", "baseline": "middle", "dx": 1, "dy": 3, "fontSize": 16},
          "encoding": {"x": {"datum": 3.427, "type": "quantitative"}, "y": {"datum": 0, "type": "quantitative", "axis": null}}
        },
        {
          "data": {"values": [{"level": "Fermi"}]},
          "mark": {"type": "text", "text": "F", "align": "left", "baseline": "middle", "dx": 11, "dy": 10, "fontSize": 11, "fontWeight": "bold"},
          "encoding": {"x": {"datum": 3.427, "type": "quantitative"}, "y": {"datum": 0, "type": "quantitative", "axis": null}}
        }
      ]
    },
    {
      "width": 199, "height": 398,
      "resolve": {"axis": {"y": "independent"}},
      "layer": [
        {
          "data": {"name": "bands_16GPa"},
          "mark": {"type": "line", "interpolate": "monotone", "clip": true},
          "encoding": {
            "x": {"field": "k", "type": "quantitative", "scale": {"domain": [0, 3.427], "nice": false, "zero": false},
                  "axis": {"title": "(d) 16 GPa PRESSURE", "titleX": 91.3}},
            "y": {"field": "E", "type": "quantitative", "scale": {"domain": [-14, 8], "nice": false, "zero": false},
                  "axis": {"values": [-12.5, -10, -7.5, -5, -2.5, 0, 2.5, 5, 7.5], "labelExpr": "datum.value % 5 !== 0 ? '' : datum.value < 0 ? '-' + abs(datum.value) : '' + datum.value", "title": "Energy (eV)"}},
            "color": {"field": "band", "type": "nominal", "legend": null},
            "strokeWidth": {"condition": {"test": "datum.band === 'gray'", "value": 3.2}, "value": 2.4}
          }
        },
        {
          "data": {"name": "kpath"},
          "transform": [{"filter": "datum.point === 'L' || datum.point === 'X'"}],
          "mark": {"type": "rule", "color": "black", "strokeWidth": 2},
          "encoding": {"x": {"field": "k", "type": "quantitative"}}
        },
        {
          "data": {"name": "kpath"},
          "transform": [{"filter": "datum.point === 'Γ' || (datum.point === 'W' && datum.k > 0)"}],
          "mark": {"type": "rule", "color": "black", "strokeWidth": 3.5},
          "encoding": {"x": {"field": "k", "type": "quantitative"}}
        },
        {
          "data": {"name": "kpath"},
          "mark": {"type": "text", "baseline": "top", "align": "center", "dy": 8, "fontSize": 13, "fontWeight": "bold"},
          "encoding": {"x": {"field": "k", "type": "quantitative"}, "y": {"datum": -14, "type": "quantitative", "axis": null}, "text": {"field": "point"}}
        },
        {
          "data": {"values": [{"level": "Fermi"}]},
          "mark": {"type": "rule", "color": "black", "strokeWidth": 2.5, "strokeDash": [8, 5]},
          "encoding": {"y": {"datum": 0, "type": "quantitative", "scale": {"domain": [-14, 8], "nice": false},
                             "axis": {"orient": "right", "values": [-12.5, -10, -7.5, -5, -2.5, 0, 2.5, 5, 7.5], "labels": false, "title": null}}}
        },
        {
          "data": {"values": [{"level": "Fermi"}]},
          "mark": {"type": "text", "text": "E", "align": "left", "baseline": "middle", "dx": 1, "dy": 3, "fontSize": 16},
          "encoding": {"x": {"datum": 3.427, "type": "quantitative"}, "y": {"datum": 0, "type": "quantitative", "axis": null}}
        },
        {
          "data": {"values": [{"level": "Fermi"}]},
          "mark": {"type": "text", "text": "F", "align": "left", "baseline": "middle", "dx": 11, "dy": 10, "fontSize": 11, "fontWeight": "bold"},
          "encoding": {"x": {"datum": 3.427, "type": "quantitative"}, "y": {"datum": 0, "type": "quantitative", "axis": null}}
        }
      ]
    }
  ]
}
